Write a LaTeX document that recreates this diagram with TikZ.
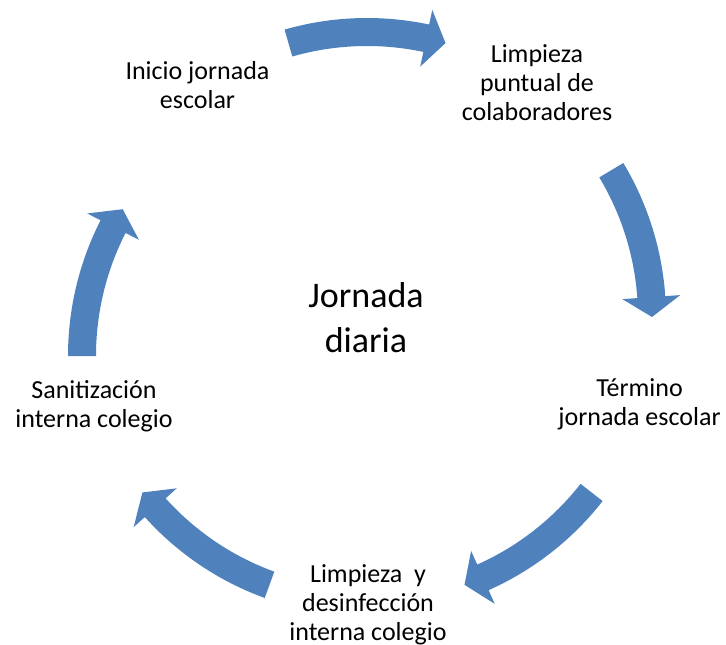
\documentclass[tikz,border=0pt]{standalone}
\usepackage{fontspec}
\setmainfont{Carlito}
\definecolor{cycblue}{HTML}{4F81BD}

\begin{document}
\begin{tikzpicture}[x=1pt,y=1pt,
        lbl/.style={align=center, inner sep=0pt, anchor=base, font=\fontsize{26}{29}\selectfont},
        hub/.style={align=center, inner sep=0pt, anchor=base, font=\fontsize{36}{45}\selectfont},
        cyc/.style={fill=cycblue, draw=none}]
    \useasboundingbox (0,0) rectangle (726,-645);
    \node[hub] (jornada) at (366,-352) {Jornada\\diaria};
    \node[lbl] (inicio) at (197.5,-108) {Inicio jornada\\escolar};
    \node[lbl] (puntual) at (537,-120) {Limpieza\\puntual de\\colaboradores};
    \node[lbl] (termino) at (639.5,-425) {Término\\jornada escolar};
    \node[lbl] (desinf) at (368,-640) {Limpieza~ y\\desinfección\\interna colegio};
    \node[lbl] (sanit) at (94,-427) {Sanitización\\interna colegio};
    % curved block arrows, tail angle / tip angle / shift
    \begin{scope}[shift={(367,-317)}]
        \foreach \tl/\tp/\dy in {106/74/0, 31/0/0, -38/-70/0, 250/218/0, 180/149/-39} {
            \pgfmathsetmacro\hd{\tp+4}
            \fill[cyc, yshift=\dy] (\tl:299) arc[start angle=\tl, end angle=\hd, radius=299]
                -- (\hd:314) -- (\tp:285) -- (\hd:256) -- (\hd:271)
                arc[start angle=\hd, end angle=\tl, radius=271] -- cycle;
        }
    \end{scope}
\end{tikzpicture}
\end{document}
